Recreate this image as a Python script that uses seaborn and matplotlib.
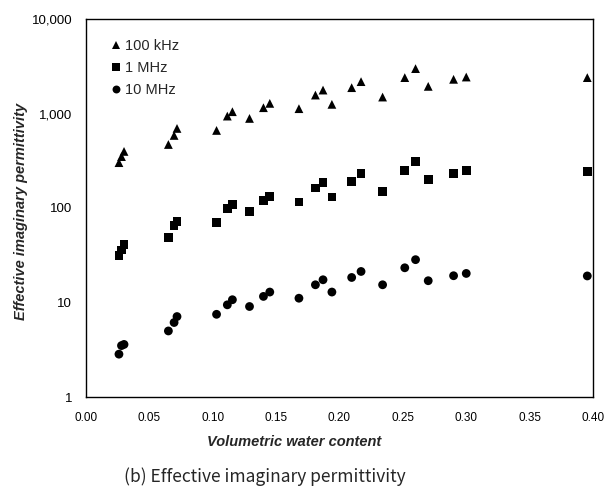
'''
Effective imaginary permittivity vs volumetric water content (log scale)
Output: out.png
'''

import numpy as np
import pandas as pd
import seaborn as sns
import matplotlib.pyplot as plt
from matplotlib.ticker import FixedLocator, FixedFormatter, NullLocator

# data
water_content = [0.026, 0.028, 0.030, 0.065, 0.0695, 0.0718, 0.103, 0.1115, 0.1155,
                 0.129, 0.140, 0.145, 0.168, 0.181, 0.187, 0.194, 0.2096, 0.217,
                 0.234, 0.2515, 0.260, 0.270, 0.290, 0.300, 0.3955]
eps_100khz = [302, 350, 397, 470, 586, 695, 662, 939, 1045, 887, 1152, 1280, 1125,
              1567, 1770, 1250, 1877, 2174, 1493, 2398, 2986, 1937, 2300, 2432, 2398]
eps_1mhz = [31.3, 36, 41, 48.9, 65, 72.3, 70.5, 98, 109, 92, 121, 133, 116,
            163, 187, 131, 192, 230, 150, 251, 308, 200, 232, 249, 245]
eps_10mhz = [2.84, 3.5, 3.6, 5.0, 6.14, 7.1, 7.5, 9.45, 10.7, 9.07, 11.6, 12.9, 11.1,
             15.4, 17.4, 12.9, 18.4, 21.3, 15.4, 23.3, 28.4, 17.0, 19.2, 20.3, 19.1]
series_names = ['100 kHz', '1 MHz', '10 MHz']
y_ticks = [1, 10, 100, 1000, 10000]
y_tick_labels = ['1', '10', '100', '1,000', '10,000']
x_ticks = [0.00, 0.05, 0.10, 0.15, 0.20, 0.25, 0.30, 0.35, 0.40]

df = pd.DataFrame({
    'theta': water_content * 3,
    'eps': eps_100khz + eps_1mhz + eps_10mhz,
    'freq': [series_names[0]] * len(water_content)
            + [series_names[1]] * len(water_content)
            + [series_names[2]] * len(water_content),
})

sns.set_theme(style='white')
plt.rcParams['font.family'] = ['Liberation Sans', 'DejaVu Sans']

fig = plt.figure(figsize=(6.06, 4.88), dpi=100)
ax = fig.add_axes([86 / 606, 91 / 488, 507 / 606, 378 / 488])

sns.scatterplot(data=df, x='theta', y='eps', style='freq', hue='freq',
                palette=['black'] * 3,
                markers={'100 kHz': '^', '1 MHz': 's', '10 MHz': 'o'},
                s=40, edgecolor='none', linewidth=0, ax=ax)

ax.set_yscale('log')
ax.set_ylim(1, 10000)
ax.set_xlim(0, 0.40)
ax.yaxis.set_major_locator(FixedLocator(y_ticks))
ax.yaxis.set_major_formatter(FixedFormatter(y_tick_labels))
ax.yaxis.set_minor_locator(NullLocator())
ax.set_xticks(x_ticks)
ax.set_xticklabels([f'{v:.2f}' for v in x_ticks])

ax.tick_params(axis='both', direction='in', length=2, width=0.6, color='#555555',
               labelcolor='black')
ax.tick_params(axis='x', labelsize=8.5, pad=11)
ax.tick_params(axis='y', labelsize=9.5, pad=10)
for sp in ax.spines.values():
    sp.set_color('black')
    sp.set_linewidth(1.0)

ax.set_xlabel('Volumetric water content', fontsize=10.5, fontweight='bold',
              fontstyle='italic')
ax.xaxis.set_label_coords(0.41, -0.10)
ax.set_ylabel('Effective imaginary permittivity', fontsize=10.5, fontweight='bold',
              fontstyle='italic')
ax.yaxis.set_label_coords(-0.114, 0.49)

leg = ax.legend(loc='upper left', frameon=False, fontsize=10.5, handletextpad=0.1,
                labelspacing=0.55, borderaxespad=0.3, handlelength=1.0,
                markerscale=0.9, bbox_to_anchor=(0.025, 0.975))

fig.text(265 / 606, 1 - 477 / 488, '(b) Effective imaginary permittivity',
         ha='center', va='center', fontsize=12.5,
         family=['Noto Sans CJK KR', 'DejaVu Sans'])

fig.savefig('out.png', dpi=100)
plt.close(fig)
